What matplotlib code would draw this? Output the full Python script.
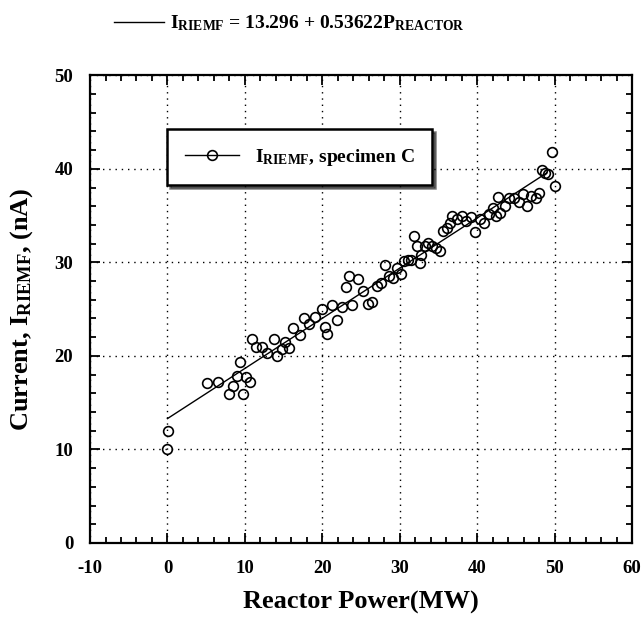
import numpy as np
import matplotlib
matplotlib.use("Agg")
from matplotlib import pyplot as plt
from matplotlib.lines import Line2D

plt.rcParams['font.family'] = ['Liberation Serif', 'DejaVu Serif']
plt.rcParams['font.weight'] = 'bold'
plt.rcParams['axes.labelweight'] = 'bold'
plt.rcParams['axes.unicode_minus'] = False
plt.rcParams['mathtext.fontset'] = 'custom'
plt.rcParams['mathtext.rm'] = 'Liberation Serif:bold'
plt.rcParams['mathtext.bf'] = 'Liberation Serif:bold'
plt.rcParams['mathtext.it'] = 'Liberation Serif:bold'

# Reactor power (MW) vs RIEMF current (nA), specimen C
power = [0.0, 0.1, 5.1, 6.5, 7.9, 8.5, 9.0, 9.4, 9.8, 10.2,
         10.6, 10.9, 11.4, 12.2, 12.9, 13.8, 14.2, 14.8, 15.2, 15.7,
         16.2, 17.1, 17.6, 18.3, 19.1, 19.9, 20.3, 20.6, 21.2, 21.9,
         22.5, 23.0, 23.4, 23.8, 24.6, 25.2, 25.9, 26.4, 27.1, 27.6,
         28.1, 28.6, 29.1, 29.6, 30.1, 30.5, 31.0, 31.4, 31.9, 32.2,
         32.6, 32.8, 33.3, 33.6, 34.1, 34.7, 35.2, 35.6, 36.1, 36.5,
         36.8, 37.4, 38.0, 38.6, 39.2, 39.7, 40.3, 40.9, 41.5, 42.0,
         42.4, 42.7, 43.0, 43.6, 44.1, 44.8, 45.4, 45.9, 46.4, 47.0,
         47.6, 48.0, 48.4, 48.7, 49.2, 49.6, 50.1]
current = [10.0, 12.0, 17.1, 17.2, 15.9, 16.8, 17.9, 19.3, 15.9, 17.7,
           17.2, 21.8, 21.0, 21.0, 20.3, 21.8, 20.0, 20.7, 21.5, 20.8,
           23.0, 22.2, 24.1, 23.4, 24.2, 25.0, 23.1, 22.3, 25.4, 23.8,
           25.2, 27.4, 28.5, 25.4, 28.2, 26.9, 25.5, 25.8, 27.5, 27.8,
           29.7, 28.5, 28.3, 29.4, 28.8, 30.1, 30.3, 30.2, 32.8, 31.7,
           29.9, 30.8, 31.7, 32.1, 31.8, 31.5, 31.2, 33.4, 33.7, 34.2,
           35.0, 34.6, 35.0, 34.4, 34.9, 33.2, 34.6, 34.2, 35.2, 35.8,
           35.0, 37.0, 35.3, 36.0, 36.9, 36.9, 36.5, 37.3, 36.0, 37.1,
           36.9, 37.4, 39.9, 39.5, 39.4, 41.8, 38.2]

# linear fit quoted on the chart
fit_intercept = 13.296
fit_slope = 0.53622
fit_range = [0.0, 49.0]

fig = plt.figure(figsize=(6.43, 6.17), dpi=100)
ax = fig.add_axes([0.140, 0.12, 0.843, 0.758])

p = np.linspace(fit_range[0], fit_range[1], 50)
fit_line, = ax.plot(p, fit_intercept + fit_slope * p, color='black', lw=1.0)

ax.plot(power, current, 'o', color='black', mfc='none', ms=7, mew=1.2)

ax.set_xlim(-10, 60)
ax.set_ylim(0, 50)
ax.set_xticks(np.arange(-10, 61, 10))
ax.set_yticks(np.arange(0, 51, 10))
ax.set_xticks(np.arange(-10, 61, 2), minor=True)
ax.set_yticks(np.arange(0, 51, 2), minor=True)
ax.tick_params(which='both', direction='in', top=True, right=True, width=1.3, labelsize=13.5)
ax.tick_params(axis='x', which='major', pad=12)
ax.tick_params(axis='y', which='major', pad=12)
ax.tick_params(which='major', length=7)
ax.tick_params(which='minor', length=4)
for s in ax.spines.values():
    s.set_linewidth(1.6)

ax.grid(True, which='major', color='black', linestyle=(0, (1, 3.5)), lw=1.0)

ax.set_xlabel("Reactor Power(MW)", fontsize=19, labelpad=10)
ax.set_ylabel(r"Current, I$_{\mathrm{RIEMF}}$, (nA)", fontsize=19, labelpad=14)

data_handle = Line2D([], [], color='black', lw=1.0, marker='o', mfc='none', ms=7, mew=1.2)
leg = ax.legend([data_handle], [r"I$_{\mathrm{RIEMF}}$, specimen C"], loc='upper left',
                bbox_to_anchor=(0.125, 0.905), fontsize=14, handlelength=2.8,
                fancybox=False, shadow={'color': 'black'}, framealpha=1,
                borderpad=0.9, edgecolor='black')
leg.get_frame().set_linewidth(1.8)

fig.legend([fit_line], [r"I$_{\mathrm{RIEMF}}$ = 13.296 + 0.53622P$_{\mathrm{REACTOR}}$"],
           loc='center', bbox_to_anchor=(0.45, 0.962), frameon=False, fontsize=14,
           handlelength=2.6, handletextpad=0.3)

fig.savefig("out.png", dpi=100)
